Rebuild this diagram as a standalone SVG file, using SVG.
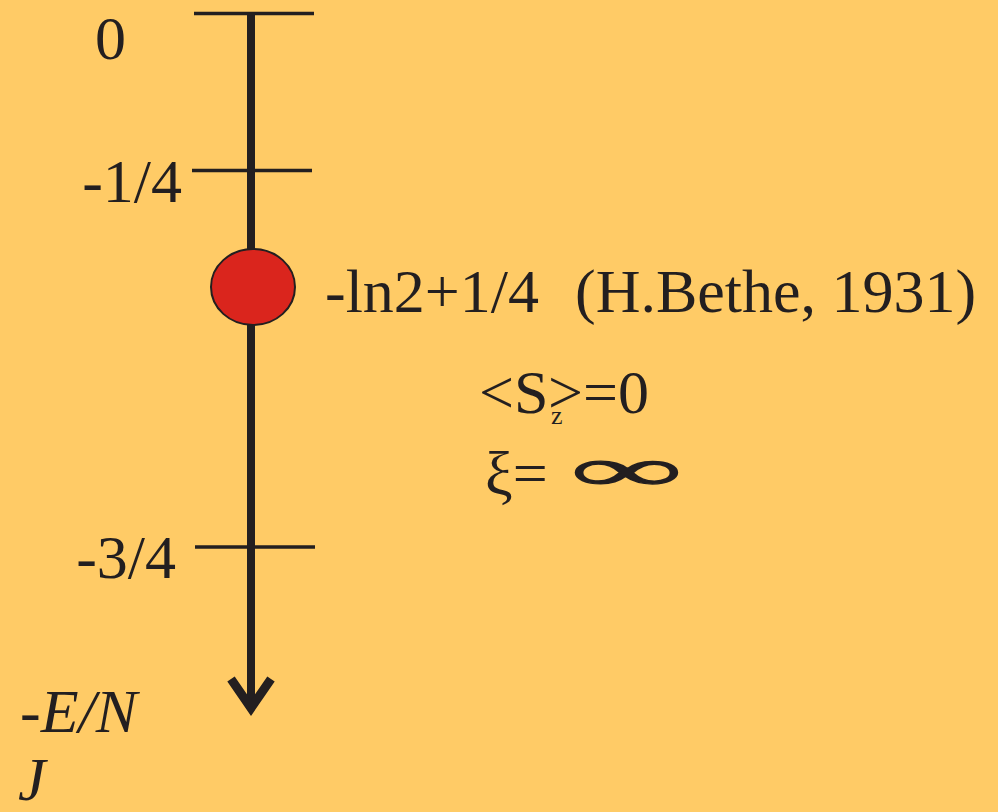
<svg xmlns="http://www.w3.org/2000/svg" width="998" height="812" viewBox="0 0 998 812">
<style>
.t{font-family:"Liberation Serif","Times New Roman",serif;fill:#231F20;font-size:62px}
.ax{stroke:#231F20;fill:none}
</style>
<rect x="0" y="0" width="998" height="812" fill="#FFCB66"/>
<g id="axis">
<line class="ax" x1="251" y1="13" x2="251" y2="706" stroke-width="8"/>
<polyline class="ax" points="231,679 251,708 271,679" stroke-width="9" stroke-linejoin="miter"/>
</g>
<g id="ticks">
<line class="ax" x1="194" y1="13.5" x2="314" y2="13.5" stroke-width="3.5"/>
<line class="ax" x1="192" y1="170.5" x2="312" y2="170.5" stroke-width="3.5"/>
<line class="ax" x1="195" y1="547" x2="315" y2="547" stroke-width="3.5"/>
</g>
<g id="labels">
<text class="t" x="95" y="59">0</text>
<text class="t" x="182" y="202" text-anchor="end">-1/4</text>
<text class="t" x="176" y="578" text-anchor="end">-3/4</text>
<text class="t" x="20" y="732" font-style="italic">-E/N</text>
<text class="t" x="18" y="800" font-style="italic">J</text>
</g>
<g id="bethe-point">
<ellipse cx="253" cy="287" rx="42" ry="38" fill="#DA251D" stroke="#231F20" stroke-width="2"/>
<text class="t" x="325" y="312">-ln2+1/4</text>
<text class="t" x="575" y="312">(H.Bethe, 1931)</text>
</g>
<g id="properties">
<text class="t" x="479" y="413">&lt;S</text>
<text class="t" x="551" y="424" style="font-size:26px">z</text>
<text class="t" x="548" y="413">&gt;=0</text>
<text class="t" x="485" y="494">ξ=</text>
<text class="t" transform="translate(572,490) scale(2.55,1.0)" style="font-size:60px;font-weight:bold;stroke:#231F20;stroke-width:1.2">∞</text>
</g>
</svg>
